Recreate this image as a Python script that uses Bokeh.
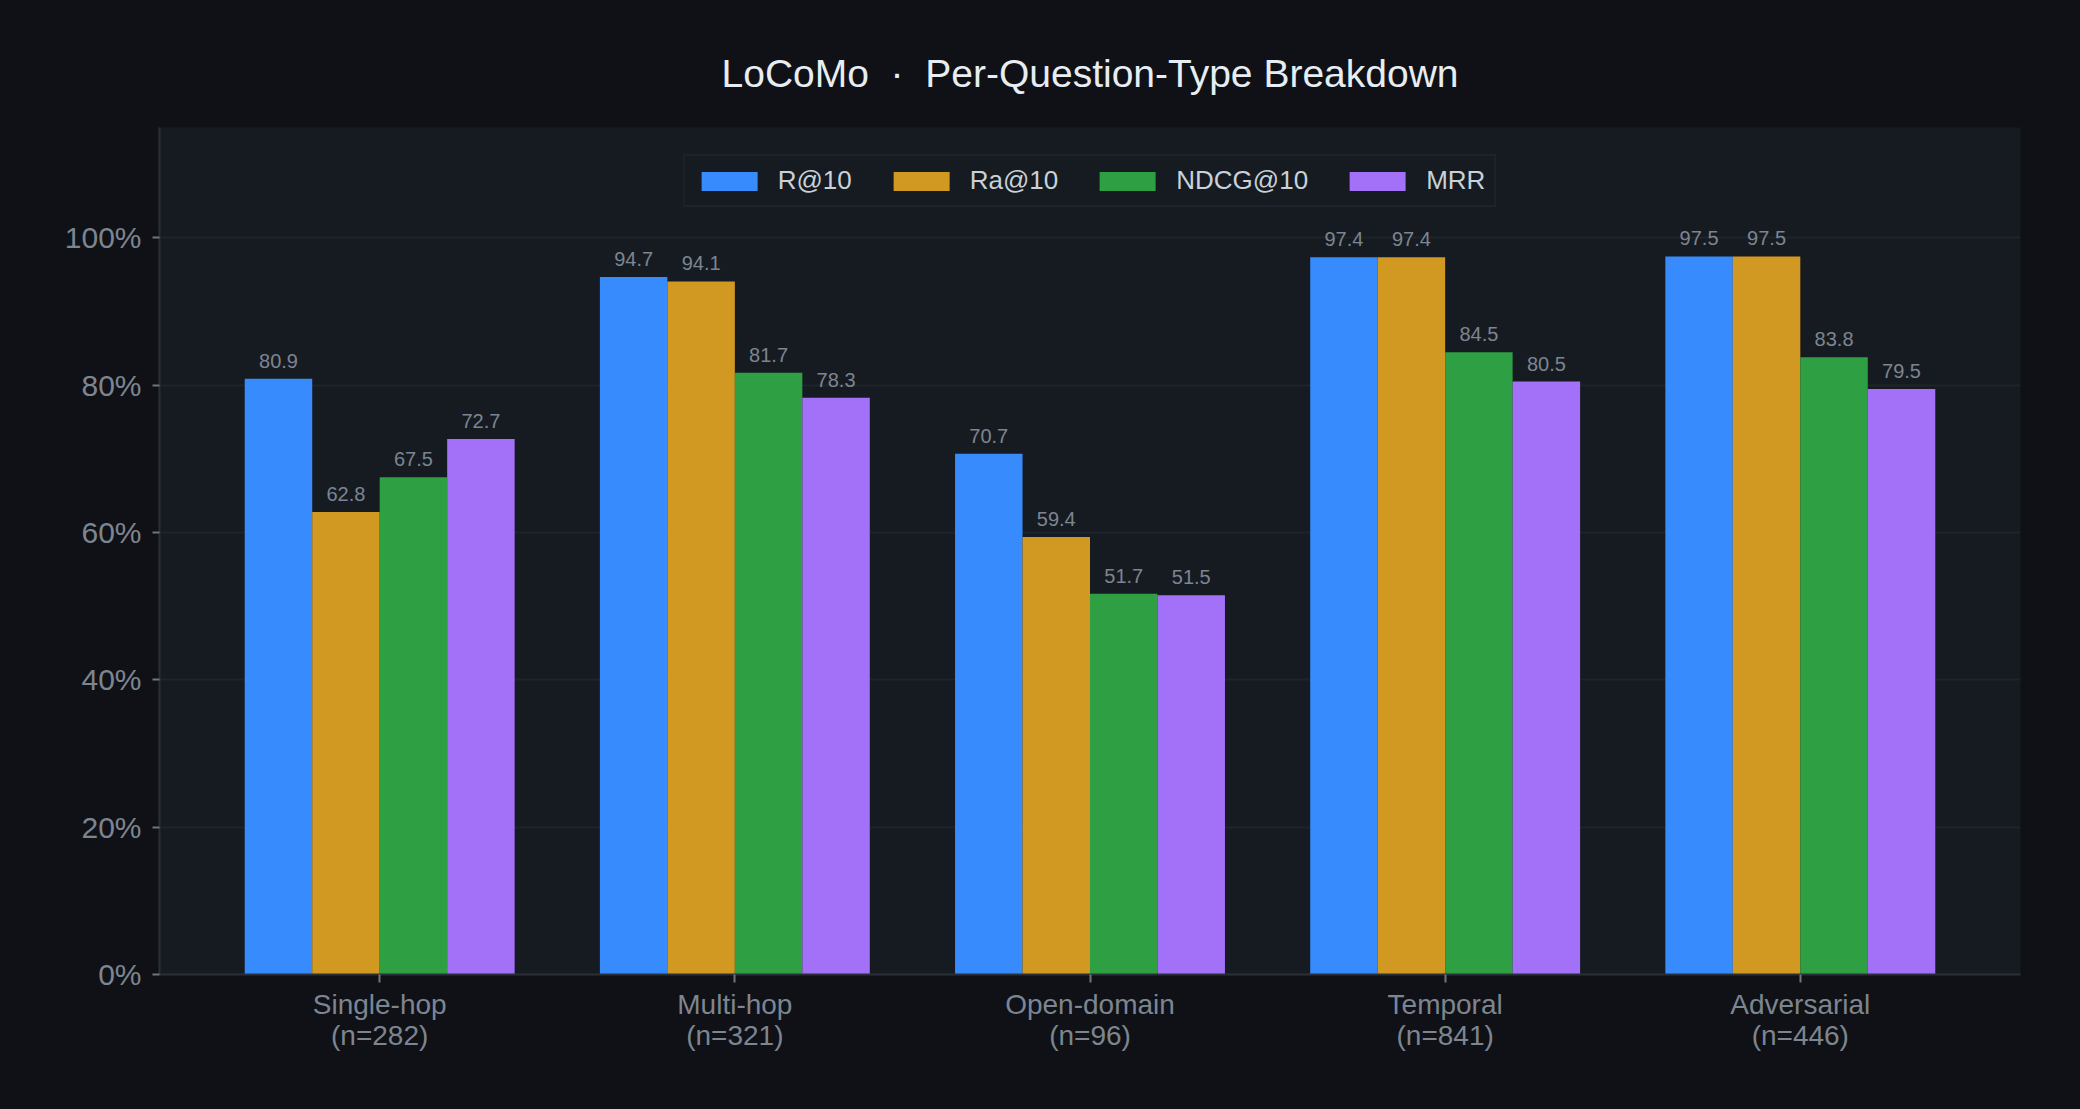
from bokeh.plotting import figure
from bokeh.models import ColumnDataSource, FactorRange, Legend, LegendItem, FixedTicker
from bokeh.transform import dodge
from bokeh.embed import file_html
from bokeh.resources import INLINE
from bokeh.core.properties import value

# ---- data ----
categories = ["Single-hop", "Multi-hop", "Open-domain", "Temporal", "Adversarial"]
counts = [282, 321, 96, 841, 446]
series_names = ["R@10", "Ra@10", "NDCG@10", "MRR"]
r10 = [80.9, 94.7, 70.7, 97.4, 97.5]
ra10 = [62.8, 94.1, 59.4, 97.4, 97.5]
ndcg10 = [67.5, 81.7, 51.7, 84.5, 83.8]
mrr = [72.7, 78.3, 51.5, 80.5, 79.5]
y_ticks = [0, 20, 40, 60, 80, 100]

colors = ["#388bfd", "#d29922", "#2ea043", "#a371f7"]
OUTER = "#0f1116"
PANEL = "#161b22"
FONT = "Liberation Sans"

labels = [f"{c}\n(n={n})" for c, n in zip(categories, counts)]
series = [r10, ra10, ndcg10, mrr]
data = {"cat": labels}
for name, vals in zip(series_names, series):
    data[name] = vals
    data[name + "_lbl"] = [f"{v:.1f}" for v in vals]
source = ColumnDataSource(data)

p = figure(
    x_range=FactorRange(factors=labels, range_padding=0.12, range_padding_units="absolute"),
    y_range=(0, 115),
    width=2064, height=1093,
    output_backend="svg", toolbar_location=None,
    min_border_left=159, min_border_right=44, min_border_top=127, min_border_bottom=119,
)
p.background_fill_color = PANEL
p.border_fill_color = OUTER
p.outline_line_color = None

p.title.text = "LoCoMo\u00a0\u00a0·\u00a0\u00a0Per-Question-Type Breakdown"
p.title.align = "center"
p.title.text_font = FONT
p.title.text_font_size = "39px"
p.title.text_font_style = "normal"
p.title.text_color = "#e6edf3"
p.title.standoff = 65

width = 0.19
offsets = [-0.285, -0.095, 0.095, 0.285]
items = []
for name, col, off in zip(series_names, colors, offsets):
    r = p.vbar(x=dodge("cat", off, range=p.x_range), top=name, width=width,
               source=source, fill_color=col, line_color=None)
    p.text(x=dodge("cat", off, range=p.x_range), y=name, text=name + "_lbl",
           source=source, text_align="center", text_baseline="bottom",
           y_offset=-11, text_font=value(FONT), text_font_size="20px",
           text_color="#7d8590")
    items.append(LegendItem(label=name, renderers=[r]))

legend = Legend(items=items, orientation="horizontal", location="top_center")
legend.margin = 27
legend.padding = 9
legend.spacing = 34
legend.glyph_width = 70
legend.glyph_height = 24
legend.label_standoff = 14
legend.label_text_font = FONT
legend.label_text_font_size = "26px"
legend.label_text_color = "#c9d1d9"
legend.background_fill_color = PANEL
legend.background_fill_alpha = 1.0
legend.border_line_color = "#252a31"
legend.border_line_width = 2
p.add_layout(legend, "center")

# axes
p.yaxis.ticker = FixedTicker(ticks=y_ticks)
p.yaxis.major_label_overrides = {t: f"{t}%" for t in y_ticks}
for ax in (p.xaxis[0], p.yaxis[0]):
    ax.axis_line_color = "#2b3038"
    ax.axis_line_width = 2
    ax.major_tick_line_color = "#6e7681"
    ax.major_tick_line_width = 2
    ax.minor_tick_line_color = None
    ax.major_label_text_font = FONT
    ax.major_label_text_color = "#7d8590"
p.xaxis.major_label_text_font_size = "28px"
p.yaxis.major_label_text_font_size = "30px"
p.yaxis.major_tick_out = 7
p.yaxis.major_tick_in = 0
p.yaxis.major_label_standoff = 11
p.xaxis.major_tick_out = 8
p.xaxis.major_tick_in = 0
p.xaxis.major_label_standoff = 6
p.xaxis.major_label_text_line_height = 1.0
p.xaxis.major_label_orientation = "horizontal"

p.xgrid.grid_line_color = None
p.ygrid.grid_line_color = "#1f242b"
p.ygrid.grid_line_width = 2
p.ygrid.ticker = FixedTicker(ticks=y_ticks)

html = file_html(p, INLINE)
html = html.replace("<head>", "<head><style>html,body{background:%s;}</style>" % OUTER, 1)
open("out.html", "w").write(html)
